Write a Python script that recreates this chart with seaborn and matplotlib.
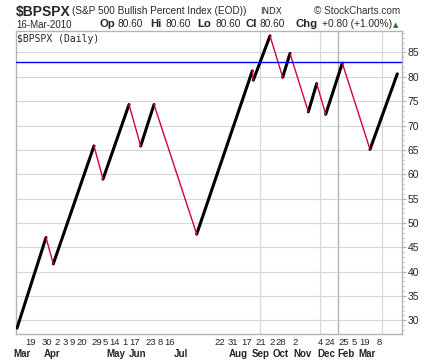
import matplotlib
matplotlib.use("Agg")
import matplotlib.pyplot as plt
import seaborn as sns
import pandas as pd

# reversal points of the chart: column position and bullish percent
cols = [1, 30, 37.3, 78, 87, 113, 124.7, 138, 180.7, 236.3, 237.3, 254, 266.7, 274, 292.3, 300.7, 309.7, 326.3, 354, 381.3]
pct = [28.4, 47.0, 41.6, 65.8, 59.0, 74.3, 65.8, 74.3, 47.7, 81.2, 79.3, 88.4, 79.9, 84.8, 72.8, 78.6, 72.3, 82.8, 65.1, 80.6]

day_pos = [15, 31, 41, 49, 56, 66, 81, 89, 99, 109, 119, 135, 144, 154, 204, 217, 231, 245, 256, 265, 279, 304, 314, 328, 338, 349, 363]
day_labels = ["19", "30", "2", "3", "9", "20", "29", "5", "14", "1", "17", "23", "8", "16", "22", "31", "17", "21", "2", "28", "2", "4", "24", "25", "5", "19", "8"]
month_pos = [6, 36, 100, 122, 165, 222, 245, 265, 286, 310, 330, 351]
month_labels = ["Mar", "Apr", "May", "Jun", "Jul", "Aug", "Sep", "Oct", "Nov", "Dec", "Feb", "Mar"]
vgrid = [244, 304, 366]
year_line = 321.5
ref_level = 83

rows = []
for i in range(len(cols) - 1):
    d = "up" if pct[i + 1] > pct[i] else "down"
    rows.append((i, d, cols[i], pct[i]))
    rows.append((i, d, cols[i + 1], pct[i + 1]))
df = pd.DataFrame(rows, columns=["seg", "dir", "col", "pct"])

sns.set_style("white")
plt.rcParams["font.family"] = ["Liberation Sans", "DejaVu Sans"]

fig = plt.figure(figsize=(4.33, 3.6), dpi=100)
ax = fig.add_axes([16 / 433, 1 - 334 / 360, 386 / 433, 303 / 360])

sns.lineplot(data=df, x="col", y="pct", units="seg", estimator=None, hue="dir",
             size="dir", palette={"up": "black", "down": "#d4003c"},
             sizes={"up": 2.2, "down": 1.0}, legend=False, ax=ax, zorder=3)

ax.axhline(ref_level, color="#0000ff", lw=1.0, zorder=4)
for v in vgrid:
    ax.axvline(v, color="#d8d8d8", lw=0.9, zorder=1)
ax.axvline(year_line, color="#b4b4b4", lw=1.0, zorder=1)

ax.set_xlim(0, 386)
ax.set_ylim(27.2, 89.4)
ax.yaxis.tick_right()
ax.set_yticks(range(30, 90, 5))
ax.set_yticks(range(28, 90, 1), minor=True)
ax.grid(axis="y", color="#d8d8d8", lw=0.9, zorder=0)
ax.tick_params(axis="y", which="major", length=3, color="#b4b4b4", pad=1, labelsize=7.5)
ax.tick_params(axis="y", which="minor", length=1.5, color="#b4b4b4")

ax.xaxis.remove_overlapping_locs = False
ax.set_xticks(day_pos, day_labels)
ax.set_xticks(month_pos, month_labels, minor=True)
ax.tick_params(axis="x", which="major", length=0, pad=3, labelsize=6.8)
ax.tick_params(axis="x", which="minor", length=0, pad=10.5, labelsize=7)
for t in ax.get_xticklabels(minor=True):
    t.set_fontweight("bold")
ax.set_xlabel("")
ax.set_ylabel("")
for s in ax.spines.values():
    s.set_color("#b4b4b4")
    s.set_linewidth(1.0)

ax.text(0.003, 0.99, "$BPSPX (Daily)", transform=ax.transAxes, ha="left", va="top",
        fontsize=7, family="DejaVu Sans Mono")

fig.text(16 / 433, 1 - 5 / 360, "$BPSPX", fontsize=10, fontweight="bold", va="top")
fig.text(72 / 433, 1 - 6 / 360, "(S&P 500 Bullish Percent Index (EOD))", fontsize=7.2, va="top")
fig.text(260 / 433, 1 - 7 / 360, "INDX", fontsize=6.3, va="top", family="DejaVu Sans")
fig.text(400 / 433, 1 - 6 / 360, "© StockCharts.com", fontsize=7.2, va="top", ha="right", color="#333333")
fig.text(16 / 433, 1 - 20 / 360, "16-Mar-2010", fontsize=7, va="top")

hdr_text = ["Op", "80.60", "Hi", "80.60", "Lo", "80.60", "Cl", "80.60", "Chg", "+0.80 (+1.00%)"]
hdr_x = [99, 118, 150, 165, 197, 215, 245, 260, 295, 322]
for i, (s, px) in enumerate(zip(hdr_text, hdr_x)):
    bold = i % 2 == 0
    fig.text(px / 433, 1 - 19 / 360, s, fontsize=8.2 if bold else 7.3, va="top",
             fontweight="bold" if bold else "normal")
fig.text(393 / 433, 1 - 22 / 360, "▲", fontsize=5, va="top", color="#2e6b2e", family="DejaVu Sans")

fig.savefig("out.png", dpi=100)
